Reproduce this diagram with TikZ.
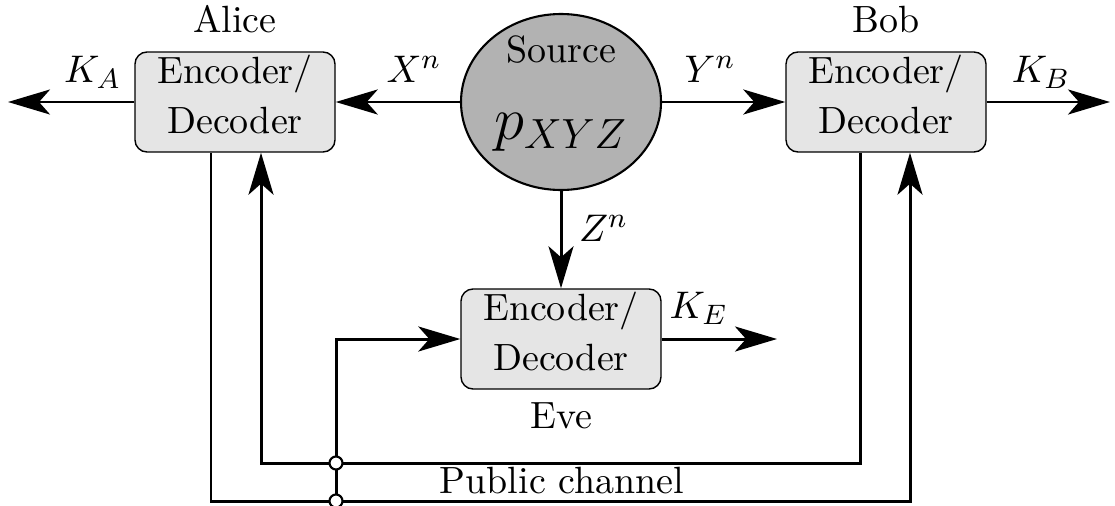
\documentclass[tikz,border=0pt]{standalone}
\usetikzlibrary{arrows.meta,positioning,shapes.geometric}

\begin{document}
\begin{tikzpicture}[>={Stealth[length=4.2mm,width=2.5mm,inset=1.1mm]},auto,
                    line width=0.85pt,font=\fontsize{10.8}{14.2}\selectfont,
                    box/.style={rectangle,rounded corners=1.2mm,draw,line width=0.4pt,fill=black!10,
                                minimum width=2cm,minimum height=1cm,inner sep=0pt,align=center},
                    source/.style={ellipse,draw,line width=0.6pt,fill=black!30,
                                   minimum width=2cm,minimum height=1.76cm,inner sep=0pt},
                    junc/.style={circle,draw,fill=white,line width=0.6pt,minimum size=1.3mm,inner sep=0pt}]

\useasboundingbox (0,0) rectangle (11.15,-5.05);

\node[source] (src) at (5.61,-1.02) {};
\node (srcname) at ([yshift=5.2mm]src.center) {Source};
\node[font=\fontsize{17.8}{20}\selectfont] (pxyz) at ([yshift=-3mm]src.center) {$p_{XYZ}$};

\node[box] (alice) at (2.35,-1.02) {Encoder/\\Decoder\strut};
\node[box] (bob) at (8.86,-1.02) {Encoder/\\Decoder\strut};
\node[box] (eve) at (5.61,-3.39) {Encoder/\\Decoder\strut};

\node (alicename) [above=0.05cm of alice] {Alice};
\node (bobname) [above=0.05cm of bob] {Bob};
\node (evename) [below=0cm of eve] {Eve};

\coordinate (ka) at (0.08,-1.02);
\coordinate (kb) at (11.10,-1.02);
\coordinate (ke) at (7.77,-3.39);

\path[->]
(src) edge node[above=0.6mm,pos=0.37] {$X^n$} (alice)
      edge node[above=0.6mm,pos=0.39] {$Y^n$} (bob)
      edge node[right=0.5mm,pos=0.38] {$Z^n$} (eve)
(alice) edge node[above=0mm,pos=0.33] {$K_A$} (ka)
(bob) edge node[above=0mm,pos=0.44] {$K_B$} (kb)
(eve) edge node[above=0.1mm,pos=0.32] {$K_E$} (ke);

% public channel
\coordinate (aout) at ([xshift=-2.4mm]alice.south);
\coordinate (ain) at ([xshift=2.6mm]alice.south);
\coordinate (bout) at ([xshift=-2.6mm]bob.south);
\coordinate (bin) at ([xshift=2.4mm]bob.south);
\coordinate (inlvl) at (0,-4.63);
\coordinate (outlvl) at (0,-5.01);
\coordinate (tap) at (3.36,-5.01);

\draw[->] (aout) |- (bin |- outlvl) -- (bin);
\draw[->] (bout) |- (ain |- inlvl) -- (ain);
\draw[->] (tap) |- (eve.west);

\node[junc] (j1) at (tap |- inlvl) {};
\node[junc] (j2) at (tap) {};

\node (pubname) at (5.62,-4.81) {Public channel};
\end{tikzpicture}
\end{document}
